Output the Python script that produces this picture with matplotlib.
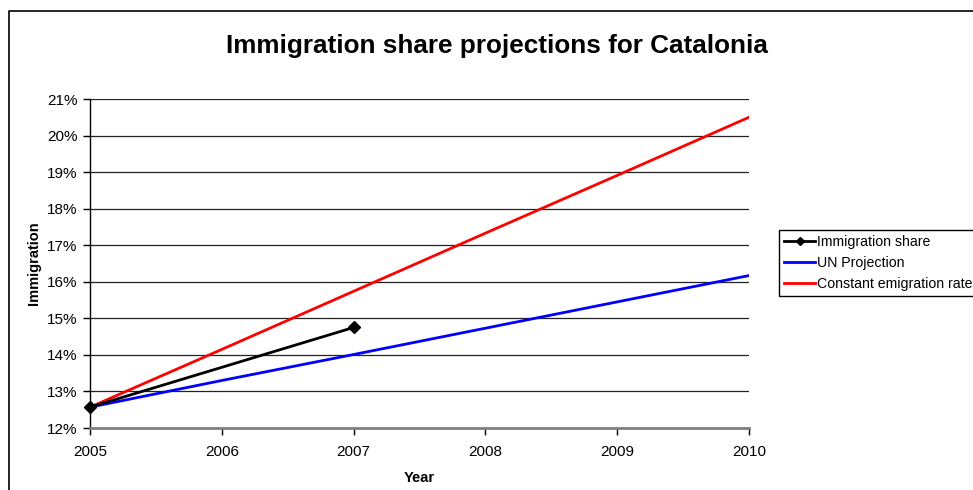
import matplotlib
matplotlib.use("Agg")
import matplotlib.pyplot as plt
from matplotlib.lines import Line2D
from matplotlib.ticker import FuncFormatter

plt.rcParams['font.family'] = ['Liberation Sans', 'DejaVu Sans']

# Data (percent)
years_obs = [2005, 2007]
immigration_share = [12.57, 14.75]
years_proj = [2005, 2006, 2007, 2008, 2009, 2010]
un_projection = [12.57, 13.30, 14.01, 14.73, 15.45, 16.17]
constant_emig = [12.57, 14.15, 15.74, 17.33, 18.91, 20.50]

title = "Immigration share projections for Catalonia"
yticks = [12, 13, 14, 15, 16, 17, 18, 19, 20, 21]
xticks = [2005, 2006, 2007, 2008, 2009, 2010]

W, H = 973, 490
fig = plt.figure(figsize=(W / 100, H / 100), dpi=100)
fig.patch.set_facecolor('white')

# outer chart frame (clipped at right and bottom)
fig.add_artist(Line2D([9 / W, 9 / W, 1.01], [-0.01, 1 - 11 / H, 1 - 11 / H],
                      transform=fig.transFigure, color='black', lw=1.2))

ax = fig.add_axes([90 / W, (H - 428) / H, 659 / W, 329 / H])

ax.plot(years_obs, immigration_share, color='black', lw=2.0, marker='D',
        markersize=6, label='Immigration share', zorder=5, clip_on=False)
ax.plot(years_proj, un_projection, color='#0000ff', lw=2.0, label='UN Projection', zorder=4)
ax.plot(years_proj, constant_emig, color='#ff0000', lw=2.0,
        label='Constant emigration rate', zorder=4)

ax.set_xlim(2005, 2010)
ax.set_ylim(12, 21)
ax.set_xticks(xticks)
ax.set_yticks(yticks)
ax.yaxis.set_major_formatter(FuncFormatter(lambda v, p: f"{v:.0f}%"))
ax.grid(axis='y', color='#222222', lw=0.9)
ax.set_axisbelow(True)

for s in ['top', 'right']:
    ax.spines[s].set_visible(False)
ax.spines['left'].set_color('black')
ax.spines['left'].set_linewidth(1.0)
ax.spines['bottom'].set_color('#808080')
ax.spines['bottom'].set_linewidth(2.0)

ax.tick_params(axis='both', direction='out', length=5, width=1, color='black',
               labelsize=11, pad=4)
ax.tick_params(axis='x', pad=7)

ax.set_xlabel('Year', fontsize=10.5, fontweight='bold', labelpad=9)
ax.set_ylabel('Immigration', fontsize=10.5, fontweight='bold', labelpad=4)

fig.text(497 / W, 1 - 46 / H, title, ha='center', va='center',
         fontsize=18.8, fontweight='bold')

leg = fig.legend(loc='upper left', bbox_to_anchor=(779 / W, 1 - 230 / H),
                 fontsize=10.2, frameon=True, fancybox=False, framealpha=1,
                 edgecolor='black', handlelength=2.2, handletextpad=0.15,
                 borderpad=0.35, labelspacing=0.5, borderaxespad=0, markerscale=0.75)
leg.get_frame().set_linewidth(1.0)

fig.savefig('out.png', dpi=100)
